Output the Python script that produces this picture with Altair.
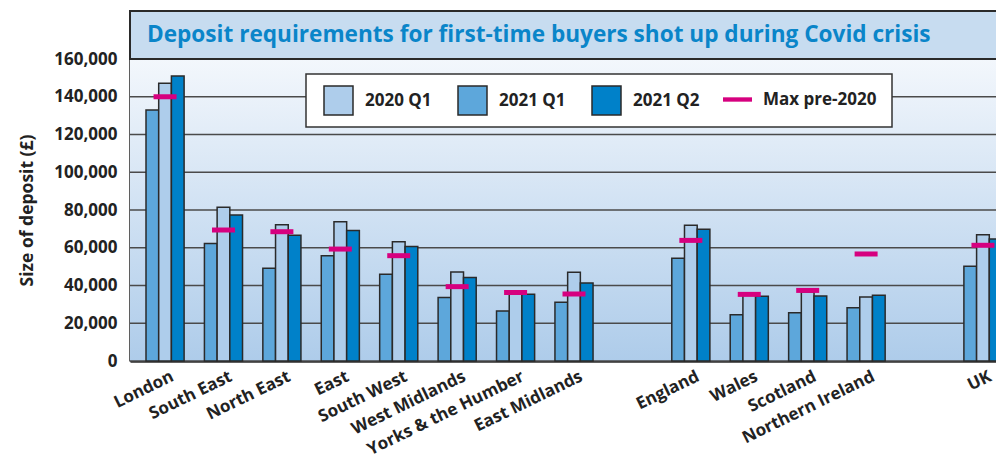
import altair as alt
import pandas as pd

# ---------------- data ----------------
regions = ["London", "South East", "North East", "East", "South West",
           "West Midlands", "Yorks & the Humber", "East Midlands",
           "England", "Wales", "Scotland", "Northern Ireland", "UK"]
# category slots along the x axis (two blank slots separate the groups)
slots = regions[:8] + [" "] + regions[8:12] + ["  "] + ["UK"]

legend_order = ["2020 Q1", "2021 Q1", "2021 Q2"]
bar_order = ["2021 Q1", "2020 Q1", "2021 Q2"]   # order of the bars in each group

# first bar of each group (medium blue)
dep_2021_q1 = [133000, 62300, 49100, 55800, 45900, 33700, 26500, 31100,
               54400, 24500, 25600, 28200, 50200]
# second bar (light blue)
dep_2020_q1 = [147100, 81400, 72200, 73800, 63200, 47200, 36000, 47000,
               71900, 34800, 36500, 33900, 66900]
# third bar (dark blue)
dep_2021_q2 = [151000, 77400, 66600, 69200, 60600, 44200, 35300, 41300,
               69800, 34300, 34400, 34800, 64600]
# magenta markers
max_pre_2020 = [140000, 69400, 68500, 59300, 55800, 39400, 36300, 35500,
                63900, 35300, 37400, 56700, 61300]

y_ticks = [0, 20000, 40000, 60000, 80000, 100000, 120000, 140000, 160000]
title_text = "Deposit requirements for first-time buyers shot up during Covid crisis"
y_title = "Size of deposit (£)"

bar_colors = ["#AECDEB", "#5DA7DB", "#0081C9"]
max_color = "#D6007F"

rows = []
for name, vals in [("2021 Q1", dep_2021_q1), ("2020 Q1", dep_2020_q1), ("2021 Q2", dep_2021_q2)]:
    for r, v in zip(regions, vals):
        rows.append({"region": r, "series": name, "value": v})
bars_df = pd.DataFrame(rows)
max_df = pd.DataFrame({"region": regions, "value": max_pre_2020,
                       "kind": ["Max pre-2020"] * len(regions)})
grid_df = pd.DataFrame({"value": y_ticks})
title_df = pd.DataFrame({"t": [title_text]})

FONT = "Open Sans"
DARK = "#2a2a2a"

x_enc = alt.X("region:N",
              scale=alt.Scale(domain=slots, range=[0, 888], paddingInner=0, paddingOuter=0.1),
              axis=alt.Axis(title=None, labelAngle=-26, labelAlign="right", labelBaseline="top",
                            labelPadding=7, labelOffset=4, ticks=False, grid=False,
                            domainColor=DARK, domainWidth=2.5, labelFont=FONT, labelFontSize=17,
                            labelFontWeight="bold", labelColor="#222", labelOverlap=False,
                            labelLimit=300))
y_enc = alt.Y("value:Q",
              scale=alt.Scale(domain=[0, 160000], nice=False),
              axis=alt.Axis(values=y_ticks, format=",d", grid=False, ticks=False,
                            domainColor=DARK, domainWidth=2.5,
                            labelPadding=13, labelFont=FONT, labelFontSize=17,
                            labelFontWeight="bold", labelColor="#222",
                            title=y_title, titleX=-103, titleY=151, titleAngle=-90,
                            titleAlign="center", titleBaseline="middle", titleFont=FONT,
                            titleFontSize=17.5, titleFontWeight="bold", titleColor="#222"))

legend_common = dict(orient="none", direction="horizontal", title=None, padding=0,
                     symbolSize=841, symbolOpacity=1, labelFont=FONT, labelFontSize=17,
                     labelFontWeight="bold", labelColor="#222", labelOffset=11,
                     columnPadding=23)

bar_color = alt.Color(
    "series:N",
    scale=alt.Scale(domain=legend_order, range=bar_colors),
    legend=alt.Legend(legendX=193, legendY=26, symbolType="square",
                      symbolStrokeWidth=1.5, symbolStrokeColor=DARK, **legend_common),
)
max_color_enc = alt.Color(
    "kind:N",
    scale=alt.Scale(domain=["Max pre-2020"], range=[max_color]),
    legend=alt.Legend(legendX=593, legendY=26, symbolType="M-1,-0.15H1V0.15H-1Z",
                      symbolStrokeWidth=0, **legend_common),
)

background = alt.Chart(title_df).mark_rect(
    fill=alt.Gradient(gradient="linear", x1=0, x2=0, y1=0, y2=1,
                      stops=[alt.GradientStop(offset=0, color="#F3F7FC"),
                             alt.GradientStop(offset=1, color="#AECCEA")])
).encode(x=alt.value(0), x2=alt.value(900), y=alt.value(0), y2=alt.value(302))

grid = alt.Chart(grid_df).mark_rule(color="#4a4a4a", strokeWidth=1.5).encode(y=y_enc)

band = alt.Chart(title_df).mark_rect(fill="#C7DCF0", stroke=DARK, strokeWidth=2).encode(
    x=alt.value(0), x2=alt.value(900), y=alt.value(-48), y2=alt.value(0))
title = alt.Chart(title_df).mark_text(
    align="left", baseline="middle", font=FONT, fontSize=22.6, fontWeight="bold",
    color="#0A85C9").encode(x=alt.value(17), y=alt.value(-24), text="t:N")
legend_box = alt.Chart(title_df).mark_rect(fill="white", stroke="#333", strokeWidth=1.5).encode(
    x=alt.value(176), x2=alt.value(762), y=alt.value(15), y2=alt.value(68))

bars = alt.Chart(bars_df).mark_bar(stroke=DARK, strokeWidth=1.5).encode(
    x=x_enc, y=y_enc, color=bar_color,
    xOffset=alt.XOffset("series:N", scale=alt.Scale(domain=bar_order, paddingInner=0,
                                                    paddingOuter=0.8)),
)
ticks = alt.Chart(max_df).mark_tick(thickness=5, size=23, opacity=1).encode(
    x=x_enc, y=y_enc, color=max_color_enc)

chart = alt.layer(background, grid, band, title, bars, ticks, legend_box).resolve_scale(
    color="independent"
).properties(
    width=866, height=302,
    autosize=alt.AutoSizeParams(type="none"),
    padding={"left": 122, "top": 51, "right": 0, "bottom": 98},
).configure_view(stroke=None)

chart.save("out.html", embed_options={"renderer": "svg", "actions": False})
